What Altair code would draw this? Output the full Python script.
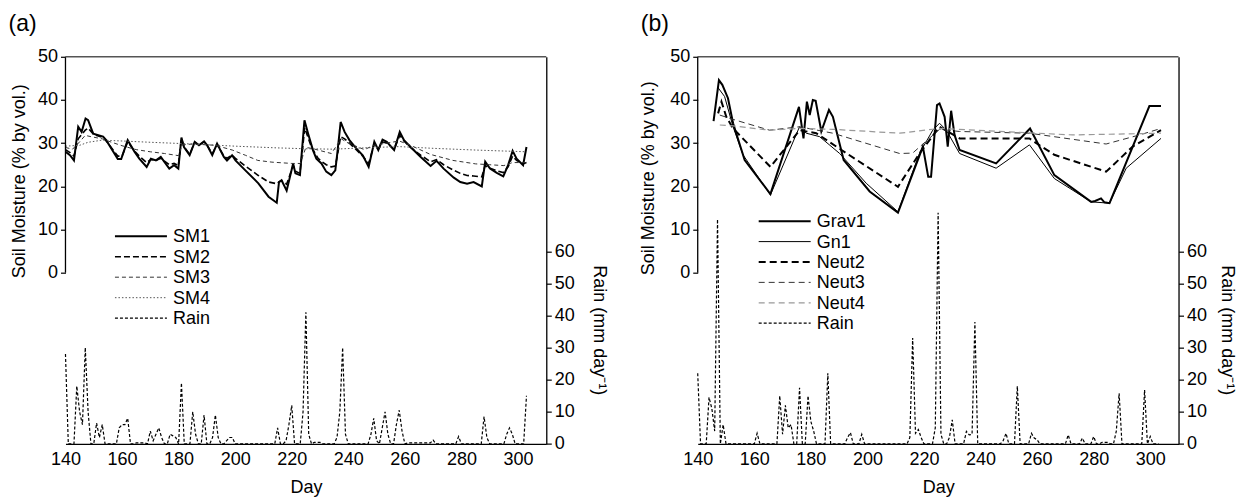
import altair as alt
import pandas as pd

FONT = "Liberation Sans"

# ---------------- Panel (a) data: (day, value) ----------------
SM1 = [(140, 28), (141.6, 27.2), (143, 26), (144.5, 33.8), (145.7, 32.6), (147.1, 35.7), (148, 35.3),
       (149.8, 32.2), (153.3, 31.5), (154.4, 30.7), (158.5, 26.3), (159.7, 26.3), (162, 30.7), (164.4, 28),
       (166.1, 26.4), (168.7, 24.5), (170.2, 26.4), (172, 26), (173.7, 26.8), (176.7, 24.1), (178.4, 24.9),
       (179.9, 24.1), (181, 31.3), (181.9, 29.1), (183.9, 27.2), (185.7, 30.3), (187.2, 29.5), (189, 30.4),
       (190.1, 29.5), (191.9, 27.2), (193.6, 29.9), (196, 26.8), (197.1, 26), (198.9, 27.2), (200.1, 26),
       (203.6, 23.7), (208.2, 20.7), (211.8, 17.6), (214.7, 16.2), (215.5, 21), (216.4, 21.4), (218.2, 19),
       (220.5, 25.3), (221.3, 23), (222.9, 22.6), (224.5, 35.3), (225.8, 32.2), (227.5, 28.4), (228.7, 26.4),
       (230.5, 25.3), (232.2, 23.4), (234, 22.6), (235.4, 23.7), (236.1, 27.6), (237.3, 34.9), (238.7, 32.6),
       (240.4, 30.7), (242.8, 28.8), (245.1, 27.2), (247.2, 24.5), (249.2, 30.3), (250.6, 28.4), (252.1, 30.8),
       (253.6, 30.3), (256.2, 28.4), (258.2, 32.6), (259.7, 30.7), (262, 29.1), (265.6, 26.8), (269.1, 24.7),
       (271.2, 25.9), (273.7, 24.1), (277.3, 22), (279.6, 21), (282, 20.6), (284.3, 21), (287.2, 20),
       (288.4, 25.7), (290.1, 24.1), (292.5, 23.1), (294.8, 22.3), (296.5, 24.9), (298.1, 28.2), (299.5, 26.4),
       (301.8, 24.9), (303, 29.1)]
SM2 = [(140, 28.5), (141.6, 27.8), (143, 27), (144.5, 31), (147, 33), (148, 33.5), (150, 32), (153.3, 31.3),
       (154.4, 30.5), (158.5, 27), (160, 27), (162, 30.3), (164.4, 28.2), (166.1, 27), (168.7, 25.5),
       (170.2, 26.2), (172, 26), (173.7, 26.5), (176.7, 25), (178.4, 25.3), (179.9, 24.8), (181, 31),
       (181.9, 29.2), (183.9, 27.4), (185.7, 30.2), (187.2, 29.5), (189, 30.3), (190.1, 29.5), (191.9, 27.5),
       (193.6, 29.7), (196, 27), (197.1, 26.5), (198.9, 27.2), (200.1, 26.5), (203.6, 24.7), (208.2, 22.5),
       (211.8, 21), (214.7, 20.6), (215.5, 21), (216.4, 21.3), (218.2, 20.5), (220.5, 24.8), (221.3, 23.5),
       (222.9, 23), (224.6, 33.5), (227, 29), (229.3, 26.5), (230.5, 25.8), (232.2, 25), (234, 24.5),
       (235.4, 24.7), (236.1, 27), (237.3, 31.5), (238.7, 31), (240.4, 30), (242.8, 28.5), (245.1, 27),
       (247.2, 25.3), (249.2, 29.8), (250.6, 28.6), (252.1, 30.3), (253.6, 30), (256.2, 28.6), (258.2, 31.8),
       (259.7, 30.5), (262, 29), (265.6, 27.2), (269.1, 25.7), (271.2, 26.2), (273.7, 25), (277.3, 23.7),
       (279.6, 23), (282, 22.5), (284.3, 22.4), (287.2, 22.2), (288.4, 24.8), (290.1, 24.2), (292.5, 23.6),
       (294.8, 23.2), (296.5, 24.5), (298.1, 27), (299.5, 26), (301.8, 25.2), (303, 25.5)]
SM3 = [(140, 29), (142.5, 28.6), (145, 30.3), (147, 31.8), (149, 31.5), (153, 31), (155, 30.5), (160, 29.4),
       (165, 28.5), (170, 28), (175, 27.6), (180, 27.1), (181.2, 29.6), (185, 29.8), (193, 29.5), (199, 28.4),
       (203.6, 27.2), (208, 26), (213, 25.6), (220, 25.3), (223, 25.3), (225, 29), (227, 28.8), (234, 27.6),
       (237.5, 31), (240, 30), (245.7, 28.5), (249, 29.5), (258, 30.5), (262, 29.5), (269, 27.4), (277, 26),
       (285, 25.2), (290, 25), (295, 24.8), (298, 25.5), (303, 25.5)]
SM4 = [(140, 29.3), (145, 29.5), (148, 30.2), (153, 30.7), (160, 30.5), (170, 30.2), (185, 29.8), (200, 29.3),
       (215, 28.9), (225, 28.7), (235, 28.6), (245, 28.9), (258, 29.2), (270, 28.8), (285, 28.4), (303, 28)]
RAIN_A = [(140, 28), (141, 0), (143, 0), (144, 18), (145, 10), (146, 6), (147, 30), (148, 10), (149, 0),
          (150, 0), (151, 6.5), (152, 2), (153, 6), (154, 0), (158, 0), (159, 5), (160, 6), (161, 6), (162, 8),
          (163, 0), (164, 0), (165, 0.3), (168, 0.3), (169, 0), (170, 4), (171, 1), (172, 3), (173, 5), (174, 2),
          (175, 0), (176, 0), (177, 3), (178, 2.5), (179, 2), (180, 0), (181, 19), (182, 0), (184, 0), (185, 10),
          (186, 3), (187, 0), (188, 0), (189, 9), (190, 0), (191, 0), (192, 2), (193, 9), (194, 2), (195, 0),
          (196, 0), (197, 1), (198, 2), (199, 2), (200, 0), (214, 0), (215, 5), (216, 0), (217, 0), (218, 1),
          (219, 6), (220, 12), (221, 0), (223, 0), (224, 10), (225, 41), (226, 3), (227, 0), (228, 0.5),
          (230, 0.5), (231, 0), (235, 0), (236, 2), (237, 10), (238, 30), (239, 3), (240, 0), (247, 0),
          (248, 3), (249, 8), (250, 1), (251, 0), (252, 5), (253, 10), (254, 3), (255, 0), (256, 0), (257, 6),
          (258, 10.5), (259, 4), (260, 0), (261, 0.3), (269, 0.3), (270, 1.2), (271, 0), (278, 0), (279, 2.3),
          (280, 0), (287, 0), (288, 8.5), (289, 2), (290, 0), (295, 0), (296, 3), (297, 5), (298, 3), (299, 0),
          (302, 0), (303, 15)]

# ---------------- Panel (b) data ----------------
GRAV1 = [(145.6, 35.1), (147.5, 44.6), (148.7, 43.5), (150.7, 40.4), (152.5, 34.6), (156.6, 26.1),
         (165.7, 18.2), (175.8, 38.4), (177.4, 31.1), (178.6, 39.6), (179.6, 36.5), (180.7, 40), (181.7, 39.8),
         (183.7, 32.7), (186.4, 37.7), (187.8, 36.1), (191.6, 26.1), (200.8, 18.8), (210.8, 13.9),
         (219.6, 29.2), (221.5, 22.2), (222.5, 22.2), (224.6, 38.8), (225.5, 39.2), (227.3, 36.1),
         (228.4, 29.2), (229.6, 37.5), (230.8, 31.9), (232.6, 28.4), (245.5, 25.3), (257.5, 33.4),
         (266.1, 22.6), (279.1, 16.4), (280.5, 16.6), (282.6, 17.2), (283.8, 16.3), (285.6, 16.1),
         (299.7, 38.6), (303.8, 38.6)]
GN1 = [(147, 43), (149.5, 40.8), (152.5, 33.8), (156, 27.3), (165.7, 18), (176, 33.8), (178.4, 32.3),
       (183.1, 31.5), (190.2, 27.6), (199.6, 20.7), (210.8, 14.1), (218.4, 27.6), (223.1, 33), (225.5, 34.6),
       (227.9, 33), (232.6, 27.6), (245.5, 24.2), (257.3, 29.6), (266.1, 21.8), (279.1, 16.4), (285.6, 16.1),
       (291.5, 24.2), (303.8, 31.1)]
NEUT2 = [(147.2, 36.9), (148.4, 39.6), (150.1, 36.1), (152.5, 33.4), (165.7, 24.5), (176, 33), (181.9, 32.3),
         (189, 29.2), (210.8, 19.9), (218.4, 27.6), (225.5, 33.8), (232.6, 31.1), (257.3, 31.1), (259.7, 30),
         (266.1, 27.3), (284.4, 23.4), (293.8, 29.2), (303.8, 33)]
NEUT3 = [(147.8, 36.5), (152.5, 35.5), (165.4, 33), (176, 33.8), (187.8, 32.3), (211.4, 27.6), (216, 27.7),
         (225.5, 33.2), (232.6, 32.7), (257.3, 32.3), (284.4, 29.8), (296.2, 31.9), (303.8, 33.4)]
NEUT4 = [(147.8, 34.2), (152.5, 34), (165.4, 33), (176, 33.4), (187.8, 33.2), (211.4, 32.3), (225.5, 33.4),
         (257.3, 32.4), (272.6, 31.9), (303.8, 32.3)]
RAIN_B = [(140, 22), (141, 0), (143, 0), (144, 14.5), (145, 11), (146, 4), (147, 70), (148, 0), (149, 6),
          (150, 0), (160, 0), (161, 3.3), (162, 0), (168, 0), (169, 15), (170, 3), (171, 12), (172, 5),
          (173, 6), (174, 0), (175, 0), (176, 17.5), (177, 0), (178, 0), (179, 15), (180, 7), (181, 4), (182, 0),
          (185, 0), (186, 22), (187, 0), (192, 0), (193, 2), (194, 3.5), (195, 0), (197, 0), (198, 3), (199, 0),
          (214, 0), (215, 2), (216, 33), (217, 3.3), (218, 4.5), (219, 2), (220, 0), (223, 0), (224, 5),
          (225, 72), (226, 3), (227, 0), (228, 0), (229, 2), (230, 7.5), (231, 0), (234, 0), (235, 3.9),
          (236, 2.8), (237, 3), (238, 38), (239, 0), (247, 0), (248, 1), (249, 3.3), (250, 0), (252, 0),
          (253, 18), (254, 0), (257, 0), (258, 3.3), (259, 1.8), (260, 1.3), (261, 0), (270, 0), (271, 2.8),
          (272, 0), (275, 0), (276, 1.8), (277, 0), (279, 0), (280, 2.3), (281, 0), (282, 0), (283, 0.5),
          (285, 0.5), (286, 0), (287, 0), (288, 4), (289, 15.8), (290, 0), (297, 0), (298, 16.8), (299, 0),
          (300, 2.3), (301, 0), (303, 0)]

DAY_TICKS = [140, 160, 180, 200, 220, 240, 260, 280, 300]
SM_TICKS = [0, 10, 20, 30, 40, 50]
RAIN_TICKS = [0, 10, 20, 30, 40, 50, 60]

W = 481
H = 387.3
X_DOMAIN = [140, 310]
SM_DOMAIN = [-39.65, 50]
RAIN_DOMAIN = [0, 120.6]


def mark_kw(color, dash, width):
    kw = {"color": color, "strokeWidth": width}
    if dash:
        kw["strokeDash"] = dash
    return kw


def panel(tag, series, rain_pts, leg_x0, leg_y0, leg_dy, ytitle_x, ytitle_y, rtitle_x):
    xenc = alt.X("day:Q", scale=alt.Scale(domain=X_DOMAIN, nice=False, zero=False),
                 axis=alt.Axis(values=DAY_TICKS, title="Day", ticks=False, labelPadding=7, grid=False,
                               labelFlush=False, labelOverlap=False,
                               titleX=W / 2, titleY=49, titleAlign="center", titleBaseline="alphabetic"))
    yenc = alt.Y("v:Q", scale=alt.Scale(domain=SM_DOMAIN, nice=False, zero=False),
                 axis=alt.Axis(values=SM_TICKS, title="Soil Moisture (% by vol.)", domain=False, tickSize=5,
                               labelPadding=3, grid=False, labelFlush=False, labelOverlap=False,
                               titleAngle=270, titleX=ytitle_x, titleY=ytitle_y,
                               titleAlign="center", titleBaseline="middle"))
    layers = []
    for name, pts, color, dash, width in series:
        layers.append(alt.Chart(pd.DataFrame(pts, columns=["day", "v"]))
                      .mark_line(**mark_kw(color, dash, width)).encode(x=xenc, y=yenc))
    spine = alt.Chart(pd.DataFrame({"day": [140], "v": [0], "v2": [50]})).mark_rule(
        color="black", strokeWidth=1.3).encode(x=xenc, y=yenc, y2="v2:Q")
    top = alt.Chart(pd.DataFrame({"k": [0]})).mark_rule(color="#555", strokeWidth=1.6).encode(
        x=alt.value(0), x2=alt.value(W), y=alt.value(0))
    inner = alt.layer(*layers, spine, top)

    rain = alt.Chart(pd.DataFrame(rain_pts, columns=["day", "r"])).mark_line(
        color="black", strokeDash=[3, 2], strokeWidth=1.2).encode(
        x=xenc,
        y=alt.Y("r:Q", scale=alt.Scale(domain=RAIN_DOMAIN, nice=False, zero=False),
                axis=alt.Axis(orient="right", values=RAIN_TICKS, title="Rain (mm day\u207b\u00b9)", tickSize=5,
                              labelPadding=3, grid=False, labelFlush=False, labelOverlap=False,
                              titleAngle=90, titleX=rtitle_x, titleY=273,
                              titleAlign="center", titleBaseline="middle")))

    legend_layers = []
    entries = [(s[0], s[2], s[3], s[4]) for s in series] + [("Rain", "black", [3, 2], 1.2)]
    for i, (name, color, dash, width) in enumerate(entries):
        ly = leg_y0 + i * leg_dy
        d = pd.DataFrame({"label": [name]})
        legend_layers.append(alt.Chart(d).mark_rule(**mark_kw(color, dash, width)).encode(
            x=alt.value(leg_x0), x2=alt.value(leg_x0 + 52), y=alt.value(ly)))
        legend_layers.append(alt.Chart(d).mark_text(align="left", baseline="middle", fontSize=18, font=FONT,
                                                    color="black").encode(
            x=alt.value(leg_x0 + 58), y=alt.value(ly + 1), text="label:N"))

    tag_layer = alt.Chart(pd.DataFrame({"t": [tag]})).mark_text(
        align="left", baseline="top", fontSize=23, font=FONT, color="black").encode(
        x=alt.value(-57), y=alt.value(-44), text="t:N")

    return alt.layer(inner, rain, *legend_layers, tag_layer).resolve_scale(y="independent").properties(
        width=W, height=H)


series_a = [
    ("SM1", SM1, "black", None, 2.0),
    ("SM2", SM2, "black", [6, 3], 1.6),
    ("SM3", SM3, "#333333", [4, 3], 1.0),
    ("SM4", SM4, "#555555", [1.5, 2], 1.0),
]
series_b = [
    ("Grav1", GRAV1, "black", None, 2.0),
    ("Gn1", GN1, "black", None, 1.0),
    ("Neut2", NEUT2, "black", [7, 4], 2.0),
    ("Neut3", NEUT3, "#333333", [6, 4], 1.0),
    ("Neut4", NEUT4, "#999999", [6, 4], 1.2),
]

pa = panel("(a)", series_a, RAIN_A, 49.5, 179.5, 20.5, -46, 124, 52)
pb = panel("(b)", series_b, RAIN_B, 61, 164.5, 20.4, -49, 121, 48)

chart = alt.hconcat(pa, pb, spacing=151.5, bounds="flush").properties(
    padding={"left": 8.5, "top": 12.7, "right": 8, "bottom": 0}
).configure_view(strokeWidth=0).configure_axis(
    labelFont=FONT, titleFont=FONT, labelFontSize=18, titleFontSize=18, titleFontWeight="normal",
    labelColor="black", titleColor="black", tickColor="black", domainColor="black", tickWidth=1.2,
    domainWidth=1.3)

chart.save("out.html", embed_options={"renderer": "svg", "actions": False})
